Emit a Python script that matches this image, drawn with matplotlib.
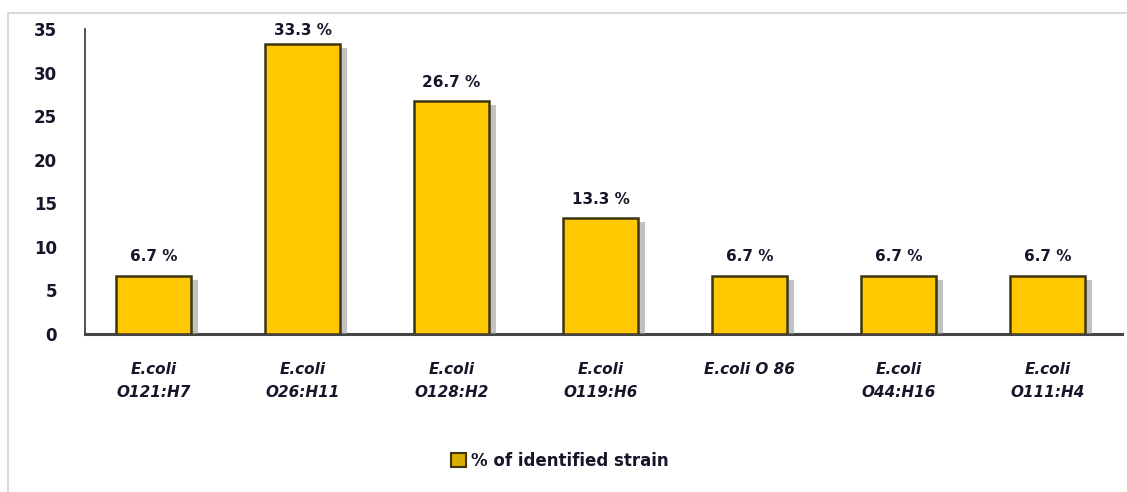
import matplotlib.pyplot as plt
import matplotlib.patheffects as pe
from matplotlib.patches import Rectangle, Patch

strains = ["E.coli\nO121:H7", "E.coli\nO26:H11", "E.coli\nO128:H2", "E.coli\nO119:H6",
           "E.coli O 86", "E.coli\nO44:H16", "E.coli\nO111:H4"]
percent = [6.7, 33.3, 26.7, 13.3, 6.7, 6.7, 6.7]
yticks = [0, 5, 10, 15, 20, 25, 30, 35]

TEXT = "#16162a"
GOLD = "#FFC800"
EDGE = "#3d3510"

fig = plt.figure(figsize=(11.27, 4.92), dpi=100)
# outer chart-area frame
fig.patches.append(Rectangle((8 / 1127, -0.01), 1.02, 1 - 13 / 492 + 0.01,
                             transform=fig.transFigure, fill=False,
                             edgecolor="#d9d9d9", linewidth=1.5))

ax = fig.add_axes([85 / 1127, 1 - 334 / 492, 1037 / 1127, 305 / 492])
x = range(len(strains))
bars = ax.bar(x, percent, width=0.5, color=GOLD, edgecolor=EDGE, linewidth=1.8,
              zorder=3)
for b in bars:
    b.set_path_effects([pe.SimplePatchShadow(offset=(5, -3), shadow_rgbFace="#9a9a9a",
                                             alpha=0.6), pe.Normal()])

# labels are kept inside the plot area like Excel does for the tallest bar
for xi, v in zip(x, percent):
    ax.text(xi, min(v + 1.3, 34.0), f"{v} %", ha="center", va="bottom", fontsize=11,
            fontweight="bold", color=TEXT)

ax.set_xlim(-0.46, len(strains) - 0.5)
ax.set_ylim(0, 35)
ax.set_yticks(yticks)
ax.set_xticks(list(x))
ax.set_xticklabels(strains, fontsize=11, fontweight="bold", fontstyle="italic",
                   color=TEXT, linespacing=1.7)
for lbl in ax.get_yticklabels():
    lbl.set_fontweight("bold")
    lbl.set_fontsize(12)
    lbl.set_color(TEXT)
ax.tick_params(axis="y", length=0, pad=20)
ax.tick_params(axis="x", length=0, pad=20)

for s in ["top", "right"]:
    ax.spines[s].set_visible(False)
ax.spines["left"].set_color("#333333")
ax.spines["left"].set_linewidth(1.2)
ax.spines["bottom"].set_color("#444444")
ax.spines["bottom"].set_linewidth(2.2)

handle = Patch(facecolor="#d9ad00", edgecolor=EDGE, linewidth=1.5)
leg = fig.legend([handle], ["% of identified strain"], loc="center",
                 bbox_to_anchor=(560 / 1127, 1 - 461 / 492), frameon=False,
                 handlelength=0.9, handleheight=0.9, handletextpad=0.3,
                 prop={"weight": "bold", "size": 12})
for t in leg.get_texts():
    t.set_color(TEXT)

fig.savefig("out.png", dpi=100)
